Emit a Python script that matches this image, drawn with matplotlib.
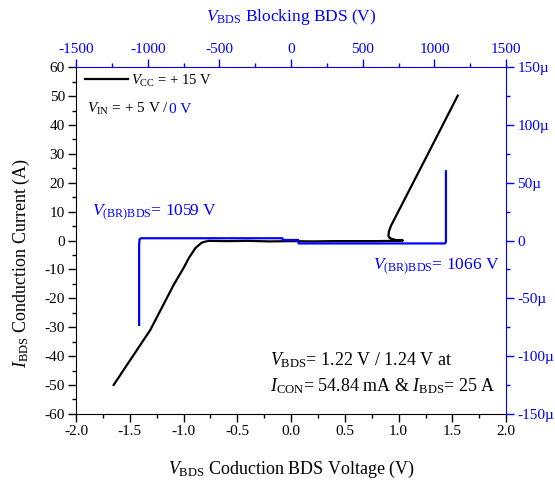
import matplotlib
matplotlib.use("Agg")
import matplotlib.pyplot as plt
from matplotlib.ticker import MultipleLocator, FuncFormatter

plt.rcParams["font.family"] = "Liberation Serif"
plt.rcParams["mathtext.fontset"] = "custom"
plt.rcParams["mathtext.rm"] = "Liberation Serif"
plt.rcParams["mathtext.it"] = "Liberation Serif:italic"
plt.rcParams["axes.unicode_minus"] = False

BLUE = "#0000FF"

# conduction curve (bottom / left axes): V, A
cond_v = [-1.65, -1.55, -1.45, -1.31, -1.20, -1.09, -1.00, -0.95, -0.89, -0.83,
          -0.77, -0.60, -0.40, -0.20, 0.00, 0.20, 0.40, 0.60, 0.80, 0.95,
          1.04, 0.97, 0.92, 0.905, 0.91, 0.93, 1.10, 1.30, 1.55]
cond_i = [-50, -44.4, -38.8, -31, -23.1, -15.2, -9.5, -6.0, -2.6, -0.7,
          -0.1, -0.2, -0.1, -0.3, -0.2, -0.3, -0.2, -0.2, -0.2, -0.1,
          0.0, 0.2, 0.8, 1.6, 3.2, 5.2, 17.5, 32.0, 50.2]

# blocking curve (top / right axes): V, uA
blk_v = [-1060, -1060, -1057, -1046, -60, -58, 50, 53, 1074, 1080, 1080]
blk_i = [-73, -4, 1.2, 2.0, 2.0, 0.5, 0.5, -2.5, -2.5, -1.0, 60]

fig = plt.figure(figsize=(5.55, 4.84), dpi=100)
rect = [0.137, 0.145, 0.775, 0.716]
ax = fig.add_axes(rect)

cond_line, = ax.plot(cond_v, cond_i, color="black", linewidth=1.6, zorder=3)
ax.set_xlim(-2.0, 2.0)
ax.set_ylim(-60, 60)
ax.xaxis.set_major_locator(MultipleLocator(0.5))
ax.xaxis.set_minor_locator(MultipleLocator(0.25))
ax.yaxis.set_major_locator(MultipleLocator(10))
ax.yaxis.set_minor_locator(MultipleLocator(5))
ax.xaxis.set_major_formatter(FuncFormatter(lambda v, p: f"{v:.1f}"))
ax.tick_params(which="major", direction="out", length=6, width=1, labelsize=11, pad=2)
ax.tick_params(which="minor", direction="out", length=3, width=1)
ax.set_xlabel(r"$V_{\mathrm{BDS}}$ Coduction BDS Voltage (V)", fontsize=13, labelpad=15)
ax.set_ylabel(r"$I_{\mathrm{BDS}}$ Conduction Current (A)", fontsize=13)
ax.yaxis.set_label_coords(-0.103, 0.434)
ax.spines["top"].set_visible(False)
ax.spines["right"].set_visible(False)

# blocking axes on top / right
ax2 = fig.add_axes(rect)
ax2.patch.set_visible(False)
ax2.plot(blk_v, blk_i, color=BLUE, linewidth=1.6)
ax2.set_xlim(-1500, 1500)
ax2.set_ylim(-150, 150)
ax2.xaxis.tick_top()
ax2.xaxis.set_label_position("top")
ax2.yaxis.tick_right()
ax2.xaxis.set_major_locator(MultipleLocator(500))
ax2.xaxis.set_minor_locator(MultipleLocator(250))
ax2.yaxis.set_major_locator(MultipleLocator(50))
ax2.yaxis.set_minor_locator(MultipleLocator(25))
ax2.yaxis.set_major_formatter(FuncFormatter(lambda v, p: "0" if v == 0 else f"{int(v)}µ"))
ax2.tick_params(which="major", direction="out", length=6, width=1, labelsize=11,
                colors=BLUE, pad=2)
ax2.tick_params(which="minor", direction="out", length=3, width=1, colors=BLUE)
ax2.set_xlabel(r"$V_{\mathrm{BDS}}$ Blocking BDS (V)", fontsize=12.5, color=BLUE,
               labelpad=16)
ax2.spines["left"].set_visible(False)
ax2.spines["bottom"].set_visible(False)
for side in ("top", "right"):
    ax2.spines[side].set_color(BLUE)

ax.legend([cond_line], [r"$V_{\mathrm{CC}}$ = + 15 V"], loc="upper left",
          bbox_to_anchor=(0.022, 0.985), frameon=False, fontsize=10.5,
          handlelength=2.9, handletextpad=0.2, borderpad=0, borderaxespad=0)
t_in = ax.text(0.025, 0.868, r"$V_{\mathrm{IN}}$ = + 5 V / ", transform=ax.transAxes,
               fontsize=11, va="baseline")
fig.canvas.draw()
bb = t_in.get_window_extent()
x_end = ax.transAxes.inverted().transform((bb.x1, bb.y0))[0]
ax.text(x_end, 0.868, "0 V", transform=ax.transAxes, fontsize=11, va="baseline",
        color=BLUE)

ax.text(-1.85, 8.4, r"$V_{\mathrm{(BR)BDS}}$= 1059 V", fontsize=12.5, color=BLUE,
        va="baseline")
ax.text(0.76, -10.0, r"$V_{\mathrm{(BR)BDS}}$= 1066 V", fontsize=12.5, color=BLUE,
        va="baseline")
ax.text(-0.2, -43.1, r"$V_{\mathrm{BDS}}$= 1.22 V / 1.24 V at", fontsize=13,
        va="baseline")
ax.text(-0.2, -52.1, r"$I_{\mathrm{CON}}$= 54.84 mA & $I_{\mathrm{BDS}}$= 25 A",
        fontsize=13, va="baseline")

fig.savefig("out.png", dpi=100)
